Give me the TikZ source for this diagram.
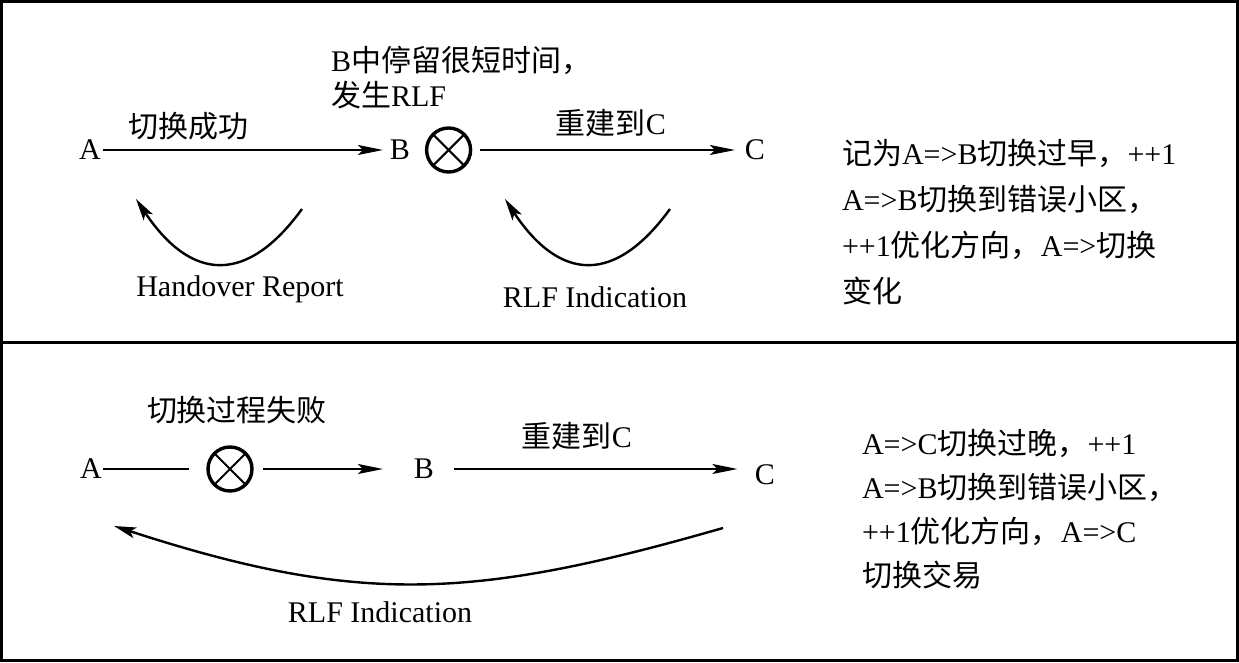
\documentclass[tikz,border=0pt]{standalone}
\usepackage{fontspec}
\setmainfont{Liberation Serif}
\newfontfamily\cjk{Noto Sans CJK SC}
\usetikzlibrary{arrows.meta}
\newcommand\zh[1]{{\cjk #1}}
\begin{document}
\begin{tikzpicture}[x=0.5pt,y=-0.5pt,
  font=\fontsize{15pt}{18pt}\selectfont,
  lbl/.style={inner sep=0pt, outer sep=0pt},
  conn/.style={line width=1pt},
  arr/.style={conn, -{Stealth[length=12.5pt,width=5pt,inset=2.5pt]}},
  curv/.style={line width=1.2pt, -{Stealth[length=11pt,width=5.5pt,inset=2.5pt]}},
  fail/.style={circle, draw, line width=1.7pt, minimum size=22pt, inner sep=0pt, outer sep=0pt},
  crossl/.style={line width=1pt},
  frame/.style={line width=1.5pt},
  note/.style={lbl, align=left, anchor=west}]
\useasboundingbox (0,0) rectangle (1239,663);
% frame
\draw[frame] (1.5,1.5) rectangle (1237,660.5);
\coordinate (divL) at (1.5,343);
\coordinate (divR) at (1237,343);
\draw[frame] (divL) -- (divR);

% ---------- top panel ----------
\node[lbl] (A1) at (90,150) {A};
\node[lbl] (B1) at (400,150) {B};
\node[fail] (X1) at (448.6,150) {};
\draw[crossl] (X1.45) -- (X1.225) (X1.135) -- (X1.315);
\node[lbl] (C1) at (755,150) {C};
\draw[arr, shorten <=1pt, shorten >=3.5pt] (A1.east) -- (B1.west);
\draw[arr, shorten <=4.7pt, shorten >=5pt] (X1.east) -- (C1.west);
\node[lbl] (L1) at (188,126) {\zh{切换成功}};
\node[lbl] (L2) at (611,123) {\zh{重建到}C};
\node[lbl, align=left, anchor=west, font=\fontsize{15pt}{17.5pt}\selectfont] (L3) at (331,78)
  {B\zh{中停留很短时间，}\\\zh{发生}RLF};
\coordinate (h1s) at (302,209);
\coordinate (h1e) at (136,199);
\draw[curv] (h1s) .. controls (246.7,285) and (191.3,281.7) .. (h1e);
\node[lbl] (L4) at (240,289) {Handover Report};
\coordinate (r1s) at (670,209);
\coordinate (r1e) at (505,199);
\draw[curv] (r1s) .. controls (614.7,285) and (559.7,281.7) .. (r1e);
\node[lbl] (L5) at (595,297) {RLF Indication};
\node[note, font=\fontsize{15pt}{23pt}\selectfont] (N1) at (842,222)
  {\zh{记为}A=>B\zh{切换过早，}++1\\A=>B\zh{切换到错误小区，}\\++1\zh{优化方向，}A=>\zh{切换}\\\zh{变化}};

% ---------- bottom panel ----------
\node[lbl] (A2) at (91,469) {A};
\node[fail] (X2) at (230,469) {};
\draw[crossl] (X2.45) -- (X2.225) (X2.135) -- (X2.315);
\node[lbl] (B2) at (424,469) {B};
\node[lbl] (C2) at (765,475) {C};
\draw[conn, shorten <=0.6pt, shorten >=9.5pt] (A2.east) -- (X2.west);
\draw[arr, shorten <=5.5pt, shorten >=15.5pt] (X2.east) -- (B2.west);
\draw[arr, shorten <=10pt, shorten >=8.75pt] (B2.east) -- (B2.east -| C2.west);
\node[lbl] (L6) at (237,410) {\zh{切换过程失败}};
\node[lbl] (L7) at (577,436) {\zh{重建到}C};
\coordinate (r2s) at (723,528);
\coordinate (r2e) at (114,526);
\draw[curv] (r2s) .. controls (474,599.5) and (360,606) .. (r2e);
\node[lbl] (L8) at (380,612) {RLF Indication};
\node[note, font=\fontsize{15pt}{22pt}\selectfont] (N2) at (862,509)
  {A=>C\zh{切换过晚，}++1\\A=>B\zh{切换到错误小区，}\\++1\zh{优化方向，}A=>C\\\zh{切换交易}};
\end{tikzpicture}
\end{document}
